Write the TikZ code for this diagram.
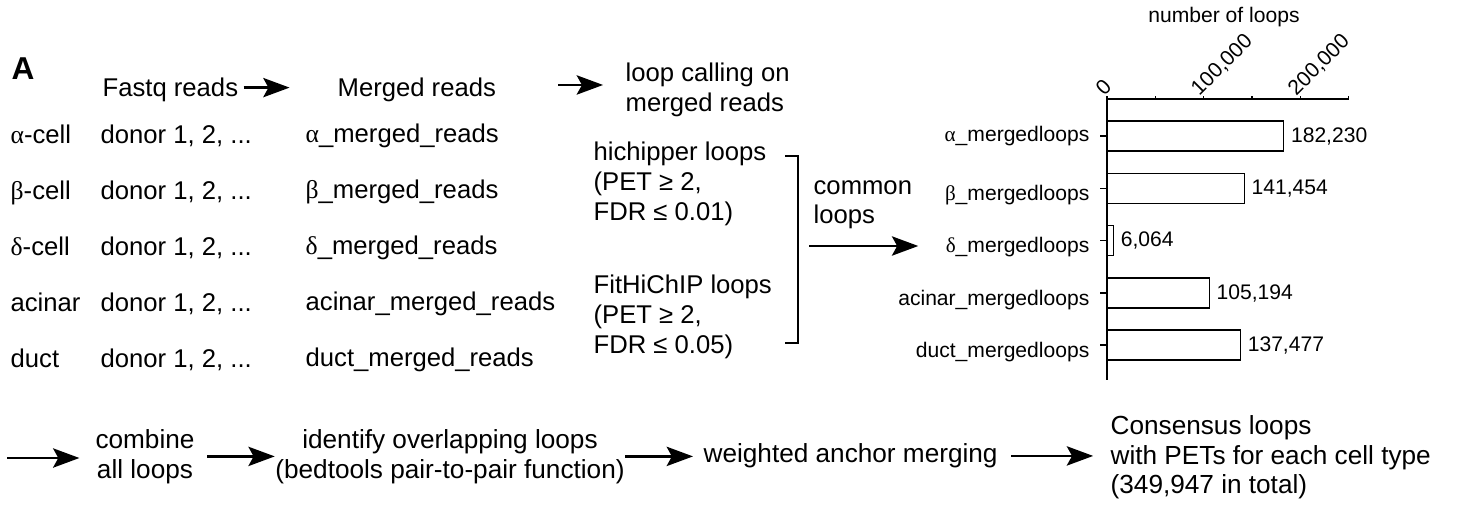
\documentclass[tikz,border=0pt]{standalone}
\usepackage{fontspec}
\setmainfont{Liberation Sans}
\newfontfamily\grk{Liberation Serif}
\usetikzlibrary{arrows.meta,positioning}

\tikzset{
  txt/.style={inner sep=0pt,font=\fontsize{14.6}{17}\selectfont},
  flow/.style={inner sep=0pt,font=\fontsize{14.9}{17}\selectfont},
  chart/.style={inner sep=0pt,font=\fontsize{12}{14}\selectfont},
  bar/.style={draw,line width=0.75pt,anchor=west,minimum height=0.6cm,inner sep=0pt},
  arr/.style={->,line width=1.3pt},
}

\begin{document}
\begin{tikzpicture}[x=0.02cm,y=-0.02cm,>={Stealth[length=15pt,width=11pt,inset=3pt]},
    line width=0.75pt,node distance=0.12cm]
\useasboundingbox (0,0) rectangle (1459,504);

% header line
\node[anchor=base west,inner sep=0pt,font=\fontsize{18}{20}\selectfont\bfseries] (panelA) at (11,79) {A};
\node[txt,anchor=base west] (fastq) at (102,96) {Fastq reads};
\node[txt,anchor=base west] (merged) at (337,96) {Merged reads};
\node[txt,anchor=north west,align=left] (calling) at (625,62) {loop calling on\\merged reads};

\draw[arr,shorten <=2.8pt,shorten >=27pt] ([yshift=1pt]fastq.east) -- ([yshift=1pt]fastq.east -| merged.west);
\draw[arr,shorten <=35pt,shorten >=12.5pt] ([yshift=2.5pt]merged.east) -- ([yshift=2.5pt]merged.east -| calling.west);

% cell types
\node[txt,anchor=base west] (acell) at (10,143) {{\grk α}-cell};
\node[txt,anchor=base west] (bcell) at (10,199) {{\grk β}-cell};
\node[txt,anchor=base west] (dcell) at (10,255) {{\grk δ}-cell};
\node[txt,anchor=base west] (acinar) at (10,311) {acinar};
\node[txt,anchor=base west] (duct) at (10,367) {duct};

\node[txt,anchor=base west] (adonor) at (100,143) {donor 1, 2, ...};
\node[txt,anchor=base west] (bdonor) at (100,199) {donor 1, 2, ...};
\node[txt,anchor=base west] (ddonor) at (100,255) {donor 1, 2, ...};
\node[txt,anchor=base west] (acdonor) at (100,311) {donor 1, 2, ...};
\node[txt,anchor=base west] (dudonor) at (100,367) {donor 1, 2, ...};

\node[txt,anchor=base west] (areads) at (305,142) {{\grk α}\_merged\_reads};
\node[txt,anchor=base west] (breads) at (305,198) {{\grk β}\_merged\_reads};
\node[txt,anchor=base west] (dreads) at (305,254) {{\grk δ}\_merged\_reads};
\node[txt,anchor=base west] (acreads) at (305,310) {acinar\_merged\_reads};
\node[txt,anchor=base west] (dureads) at (305,366) {duct\_merged\_reads};

% loop callers
\node[txt,anchor=north west,align=left] (hichipper) at (593,141.6) {hichipper loops\\(PET ≥ 2,\\FDR ≤ 0.01)};
\node[txt,anchor=north west,align=left] (fithichip) at (593,274.6) {FitHiChIP loops\\(PET ≥ 2,\\FDR ≤ 0.05)};
\coordinate (brtop) at (785,156);
\coordinate (brbot) at (785,343);
\draw[line width=1.1pt] (brtop) -| (798,343) -- (brbot);
\node[txt,anchor=north west,align=left] (common) at (813,179.6) {common\\loops};

% bar chart
\node[chart] (nloops) at (1224,17) {number of loops};
\draw (1107,99) -- (1349,99);
\draw (1107,99) -- (1107,380);
\draw (1107,99) -- (1107,96) (1155.3,99) -- (1155.3,96) (1203.7,99) -- (1203.7,96)
      (1252,99) -- (1252,96) (1300.3,99) -- (1300.3,96) (1348.7,99) -- (1348.7,96);
\node[chart,rotate=45,anchor=base west] (tzero) at (1104,97) {0};
\node[chart,rotate=45,anchor=base west] (tone) at (1199,97) {100,000};
\node[chart,rotate=45,anchor=base west] (ttwo) at (1296,97) {200,000};

\node[bar,minimum width=3.522cm] (abar) at (1107,136) {};
\node[bar,minimum width=2.734cm] (bbar) at (1107,188.5) {};
\node[bar,minimum width=0.117cm] (dbar) at (1107,240.5) {};
\node[bar,minimum width=2.033cm] (acbar) at (1107,293) {};
\node[bar,minimum width=2.657cm] (dubar) at (1107,345) {};

\node[chart,right=of abar] (aval) {182,230};
\node[chart,right=of bbar] (bval) {141,454};
\node[chart,right=of dbar] (dval) {6,064};
\node[chart,right=of acbar] (acval) {105,194};
\node[chart,right=of dubar] (duval) {137,477};

\node[chart,left=0.34cm of abar] (alab) {{\grk α}\_mergedloops};
\node[chart,left=0.34cm of bbar,yshift=-3.5pt] (blab) {{\grk β}\_mergedloops};
\node[chart,left=0.34cm of dbar,yshift=-3.5pt] (dlab) {{\grk δ}\_mergedloops};
\node[chart,left=0.34cm of acbar,yshift=-4pt] (aclab) {acinar\_mergedloops};
\node[chart,left=0.34cm of dubar,yshift=-4pt] (dulab) {duct\_mergedloops};

\draw (abar.west) -- ++(-7,0) (bbar.west) -- ++(-7,0) (dbar.west) -- ++(-7,0)
      (acbar.west) -- ++(-7,0) (dubar.west) -- ++(-7,0);

\coordinate (cstart) at (809,246);
\draw[arr,shorten >=15.3pt] (cstart) -- (cstart -| dlab.west);

% consensus steps
\node[flow,anchor=north,align=center] (combine) at (145,428.6) {combine\\all loops};
\node[flow,anchor=north,align=center] (identify) at (450,428.6) {identify overlapping loops\\(bedtools pair-to-pair function)};
\node[flow,anchor=base west] (weighted) at (703,462.7) {weighted anchor merging};
\node[flow,anchor=north west,align=left] (consensus) at (1110,414.6) {Consensus loops\\with PETs for each cell type\\(349,947 in total)};

\coordinate (bstart) at (7,458);
\draw[arr,shorten >=8.8pt] (bstart) -- (bstart -| combine.west);
\draw[arr,shorten <=7pt] (combine.east) -- (combine.east -| identify.west);
\draw[arr,shorten >=5.7pt] (identify.east) -- (identify.east -| weighted.west);
\draw[arr,shorten <=7.4pt,shorten >=9.6pt] (weighted.east) -- (weighted.east -| consensus.west);
\end{tikzpicture}
\end{document}
